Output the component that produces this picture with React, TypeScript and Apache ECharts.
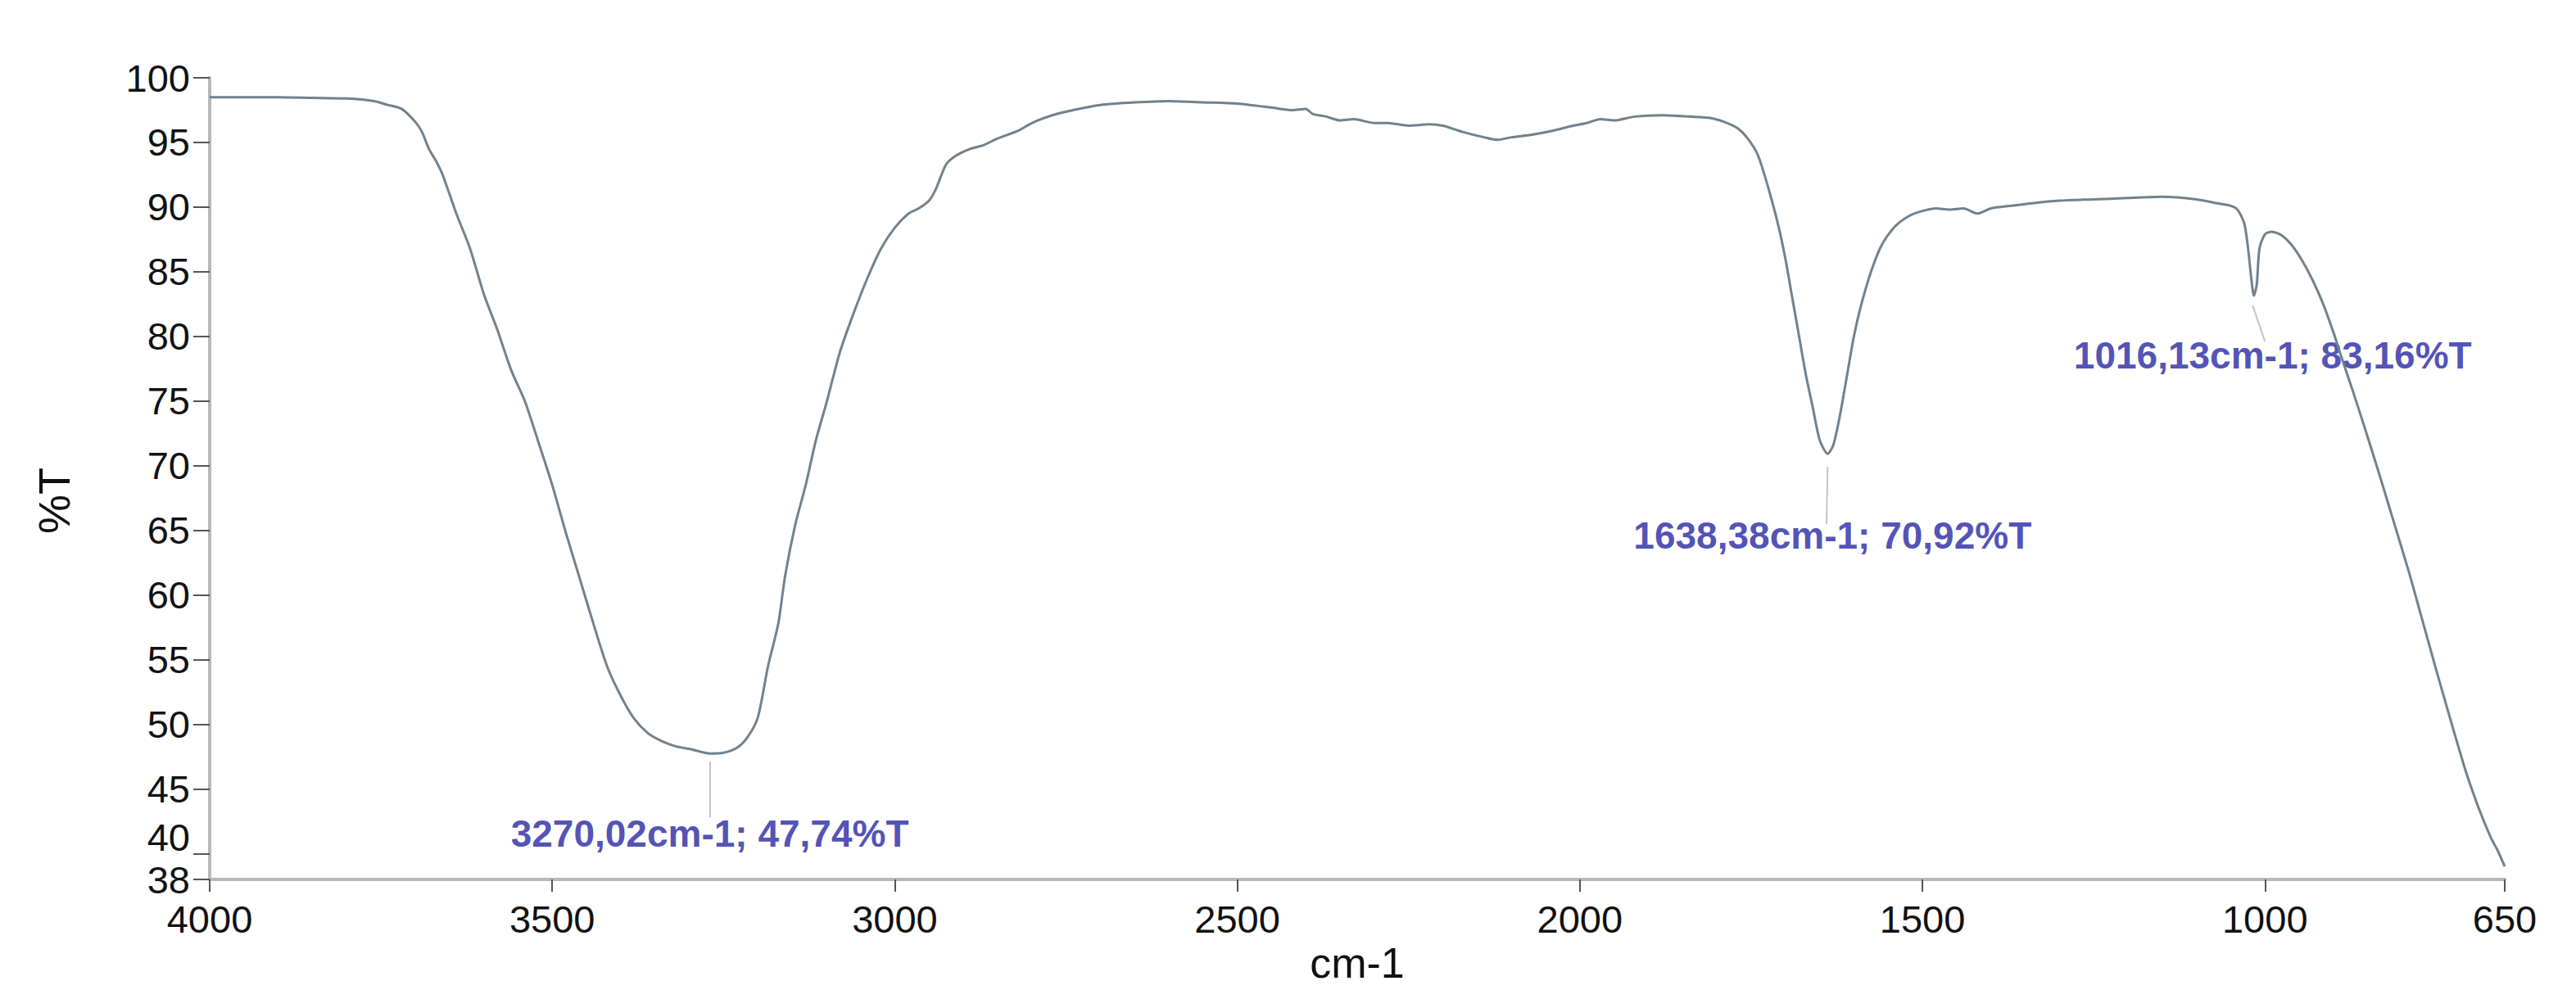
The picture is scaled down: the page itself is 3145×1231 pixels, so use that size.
import React, { useEffect, useRef } from "react";
import * as echarts from "echarts";

const wavenumbers = [
  4000, 3950, 3900, 3850, 3800, 3760, 3740, 3720, 3700, 3690, 3680, 3670, 3660, 3640, 3620, 3600,
  3580, 3560, 3540, 3520, 3500, 3480, 3460, 3440, 3420, 3400, 3380, 3360, 3340, 3320, 3300, 3270,
  3250, 3230, 3215, 3200, 3185, 3170, 3160, 3145, 3130, 3115, 3100, 3080, 3060, 3040, 3020, 3000,
  2980, 2965, 2950, 2940, 2925, 2910, 2890, 2870, 2850, 2820, 2800, 2770, 2740, 2700, 2650, 2600,
  2550, 2500, 2450, 2420, 2400, 2390, 2370, 2350, 2330, 2300, 2280, 2250, 2220, 2200, 2170, 2140,
  2120, 2100, 2070, 2040, 2010, 1990, 1970, 1950, 1920, 1880, 1840, 1810, 1790, 1770, 1755, 1740,
  1725, 1710, 1700, 1690, 1680, 1670, 1660, 1650, 1638.38, 1630, 1620, 1610, 1600, 1590, 1575, 1560,
  1540, 1520, 1500, 1480, 1460, 1440, 1420, 1400, 1370, 1340, 1300, 1250, 1200, 1150, 1100, 1070,
  1050, 1040, 1030, 1024, 1020, 1016.13, 1012, 1008, 1000, 990, 975, 960, 945, 930, 915, 900,
  889, 870, 850, 830, 810, 790, 770, 750, 730, 710, 704, 690, 670, 660, 650,
];

const transmittance = [
  98.5, 98.5, 98.5, 98.45, 98.4, 98.2, 97.9, 97.6, 96.6, 95.8, 94.5, 93.6, 92.5, 89.5, 86.8, 83.3,
  80.5, 77.4, 75.0, 71.8, 68.5, 64.8, 61.3, 57.8, 54.5, 52.2, 50.4, 49.3, 48.7, 48.3, 48.1, 47.74,
  47.8, 48.2, 49.0, 50.5, 54.5, 57.8, 61.5, 65.5, 68.5, 72.0, 74.8, 78.8, 81.8, 84.5, 86.8, 88.4,
  89.5, 89.9, 90.5, 91.4, 93.3, 94.0, 94.5, 94.8, 95.3, 95.9, 96.5, 97.1, 97.5, 97.9, 98.1, 98.2,
  98.1, 98.0, 97.7, 97.5, 97.6, 97.2, 97.0, 96.7, 96.8, 96.5, 96.5, 96.3, 96.4, 96.3, 95.8, 95.4,
  95.2, 95.4, 95.6, 95.9, 96.3, 96.5, 96.8, 96.7, 97.0, 97.1, 97.0, 96.9, 96.6, 96.1, 95.3, 94.0,
  91.5, 88.5, 86.0, 83.0, 80.0, 77.0, 74.5, 72.0, 70.92, 71.6, 74.0, 77.0, 80.0, 82.3, 85.0, 87.0,
  88.5, 89.3, 89.7, 89.9, 89.8, 89.9, 89.5, 89.9, 90.1, 90.3, 90.5, 90.6, 90.7, 90.8, 90.6, 90.3,
  90.1, 89.8, 88.7, 86.5, 84.5, 83.16, 84.0, 86.8, 87.9, 88.1, 87.8, 87.0, 85.8, 84.3, 82.5, 80.3,
  78.5, 75.5, 72.2, 68.8, 65.3, 61.8, 58.0, 54.2, 50.5, 46.9, 45.9, 43.8, 41.2, 40.2, 39.0,
];

const xTicks = [4000, 3500, 3000, 2500, 2000, 1500, 1000, 650];
const yTicks = [38, 40, 45, 50, 55, 60, 65, 70, 75, 80, 85, 90, 95, 100];
const yMinLabel = 38; // drawn separately so that it never hides the "40" label
const yLabelValues = yTicks.filter((v) => v !== yMinLabel);

const peakWavenumbers = [3270.02, 1638.38, 1016.13];
const peakValues = [47.74, 70.92, 83.16];
// label offsets in px relative to the peak point
const peakLabelOffsets = [
  [0, 98],
  [6, 100],
  [23, 73],
];
// leader line segment ends (in data units) for each peak
const leaderStart = [
  [3270.02, 47.1],
  [1638.38, 69.9],
  [1018, 82.4],
];
const leaderEnd = [
  [3270.02, 42.8],
  [1640, 65.5],
  [1000, 79.6],
];

const fmt = (v: number) => v.toFixed(2).replace(".", ",");

const FONT = "'Liberation Sans', Arial, Helvetica, sans-serif";
const GRID_LEFT = 256;

export default function App() {
  const ref = useRef<HTMLDivElement>(null);

  useEffect(() => {
    if (!ref.current) return;
    const chart = echarts.init(ref.current, undefined, { renderer: "svg" });

    const spectrum = wavenumbers.map((w, i) => [w, transmittance[i]]);
    const peaks = peakWavenumbers.map((w, i) => ({
      value: [w, peakValues[i]],
      label: {
        offset: peakLabelOffsets[i],
        formatter: `${fmt(w)}cm-1; ${fmt(peakValues[i])}%T`,
      },
    }));

    chart.setOption({
      animation: false,
      backgroundColor: "#ffffff",
      grid: { left: GRID_LEFT, right: 87, top: 95, bottom: 157, containLabel: false },
      xAxis: {
        type: "value",
        inverse: true,
        min: 650,
        max: 4000,
        name: "cm-1",
        nameLocation: "middle",
        nameGap: 76,
        nameTextStyle: { fontSize: 52, color: "#111", fontFamily: FONT },
        axisLine: { show: true, lineStyle: { color: "#b8b8b8", width: 4 } },
        axisTick: {
          show: true,
          length: 15,
          customValues: xTicks,
          lineStyle: { color: "#555", width: 2 },
        },
        axisLabel: {
          customValues: xTicks,
          showMinLabel: true,
          showMaxLabel: true,
          fontSize: 47,
          lineHeight: 40,
          color: "#111",
          fontFamily: FONT,
          margin: 28,
          formatter: (v: number) => String(v),
        },
        splitLine: { show: false },
      },
      yAxis: {
        type: "value",
        min: 38,
        max: 100,
        name: "%T",
        nameLocation: "middle",
        nameRotate: 90,
        nameGap: 163,
        nameTextStyle: { fontSize: 54, color: "#111", fontFamily: FONT, padding: [0, 54, 0, 0] },
        axisLine: { show: true, lineStyle: { color: "#b8b8b8", width: 4 } },
        axisTick: {
          show: true,
          length: 20,
          customValues: yTicks,
          lineStyle: { color: "#555", width: 2 },
        },
        axisLabel: {
          customValues: yLabelValues,
          showMinLabel: true,
          showMaxLabel: true,
          fontSize: 47,
          color: "#111",
          fontFamily: FONT,
          margin: 24,
          formatter: (v: number) => (v === 40 ? `{up|${v}}` : `${v}`),
          rich: {
            up: {
              fontSize: 47,
              color: "#111",
              fontFamily: FONT,
              padding: [0, 0, 40, 0],
            },
          },
        },
        splitLine: { show: false },
      },
      series: [
        {
          name: "spectrum",
          type: "line",
          data: spectrum,
          showSymbol: false,
          smooth: 0.25,
          lineStyle: { color: "#71828e", width: 3 },
          silent: true,
        },
        {
          name: "peaks",
          type: "scatter",
          data: peaks,
          symbolSize: 1,
          itemStyle: { color: "rgba(0,0,0,0)" },
          label: {
            show: true,
            position: "inside",
            fontSize: 46,
            fontWeight: "bold",
            color: "#2525a3",
            fontFamily: FONT,
          },
          markLine: {
            silent: true,
            symbol: ["none", "none"],
            label: { show: false },
            lineStyle: { color: "#c4c4c4", width: 2, type: "solid" },
            data: leaderStart.map((s, i) => [{ coord: s }, { coord: leaderEnd[i] }]),
          },
          silent: true,
        },
      ],
    });

    // the "38" tick label at the foot of the y axis, placed through the axis scale
    const y38 = chart.convertToPixel({ yAxisIndex: 0 }, yMinLabel) as number;
    chart.setOption({
      graphic: [
        {
          type: "text",
          x: GRID_LEFT - 24,
          y: y38,
          silent: true,
          style: {
            text: String(yMinLabel),
            fontSize: 47,
            fontFamily: FONT,
            fill: "#111",
            align: "right",
            verticalAlign: "middle",
          },
        },
      ],
    });

    return () => chart.dispose();
  }, []);

  return (
    <div
      ref={ref}
      style={{ position: "fixed", left: 0, top: 0, width: 3145, height: 1231, background: "#fff" }}
    />
  );
}
